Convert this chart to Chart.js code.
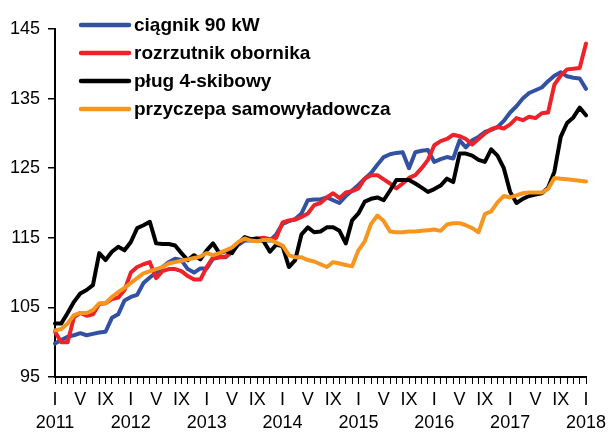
<!DOCTYPE html>
<html>
<head>
<meta charset="utf-8">
<script src="https://cdn.jsdelivr.net/npm/chart.js@4.4.1/dist/chart.umd.min.js"></script>
<style>
  body { margin: 0; background: #fff; }
  #wrap { width: 611px; height: 432px; position: relative; }
</style>
</head>
<body>
<div id="wrap"><canvas id="machines"></canvas></div>
<script>
// price indices of farm machinery, monthly I 2011 - I 2018
const seriesNames = ["ciągnik 90 kW", "rozrzutnik obornika", "pług 4-skibowy", "przyczepa samowyładowcza"];
const seriesColors = ["#3351a3", "#ee2229", "#000000", "#f7961e"];
const monthMarks = ["I", "", "", "", "V", "", "", "", "IX", "", "", ""];
const years = [2011, 2012, 2013, 2014, 2015, 2016, 2017, 2018];
const yTicks = [95, 105, 115, 125, 135, 145];

const tractor = [
  99.8, 100.3, 100.8, 101.0, 101.3, 101.0, 101.2, 101.4, 101.5, 103.5, 104.0, 106.0,
  106.5, 106.8, 108.5, 109.3, 110.0, 110.8, 111.5, 112.0, 111.8, 110.5, 110.0, 110.6,
  110.6, 112.0, 112.2, 112.2, 113.0, 114.0, 114.6, 114.6, 114.6, 114.6, 114.6, 115.5,
  117.0, 117.4, 117.7, 118.5, 120.4, 120.5, 120.5, 120.8, 120.4, 120.0, 121.0, 121.8,
  122.6, 123.5, 124.3, 125.5, 126.6, 127.0, 127.2, 127.3, 125.0, 127.3, 127.5, 127.6,
  125.9, 126.3, 126.6, 126.4, 129.0, 128.0, 129.0, 129.5, 130.2, 130.5, 130.9, 131.8,
  133.0, 133.9, 135.0, 135.8, 136.2, 136.6, 137.5, 138.3, 138.8, 138.2, 138.0, 137.9,
  136.4
];
const spreader = [
  101.5, 100.0, 100.0, 103.6, 104.2, 103.8, 104.0, 105.5, 105.6, 106.2, 106.4, 107.5,
  110.0, 110.8, 111.2, 111.5, 109.2, 110.2, 110.5, 110.5, 110.2, 109.5, 109.0, 109.0,
  110.8, 112.2, 112.2, 112.3, 113.0, 114.3, 114.8, 114.8, 114.9, 115.0, 114.8, 115.0,
  117.2, 117.5, 117.6, 118.0, 118.5, 119.7, 120.0, 120.8, 121.4, 120.7, 121.5, 121.7,
  122.1, 123.5, 124.0, 124.0, 123.4, 122.8, 122.1, 122.8, 123.6, 124.0, 125.0, 126.2,
  128.3, 128.9, 129.2, 129.8, 129.6, 129.2, 128.4, 129.2, 130.0, 130.6, 130.9, 130.7,
  131.3, 132.2, 131.9, 132.4, 132.2, 132.9, 133.0, 137.0, 138.3, 139.2, 139.3, 139.4,
  142.9
];
const plough = [
  102.7, 102.7, 104.2, 105.8, 107.0, 107.5, 108.2, 112.8, 111.8, 113.0, 113.7, 113.2,
  114.4, 116.4, 116.8, 117.3, 114.2, 114.1, 114.1, 113.9, 112.8, 111.8, 112.5, 111.9,
  113.2, 114.2, 112.8, 113.1, 112.8, 114.2, 115.1, 114.8, 114.9, 114.5, 113.0, 114.0,
  113.8, 110.8, 111.8, 115.5, 116.5, 115.8, 115.9, 116.5, 116.5, 116.0, 114.2, 117.5,
  118.5, 120.2, 120.6, 120.8, 120.4, 121.8, 123.3, 123.3, 123.3, 122.8, 122.2, 121.6,
  122.0, 122.5, 123.5, 123.0, 127.1, 127.1, 126.8, 126.2, 125.9, 127.7, 126.8, 125.0,
  121.6, 120.0, 120.6, 121.0, 121.2, 121.4, 122.2, 124.5, 129.5, 131.5, 132.3, 133.7,
  132.6
];
const trailer = [
  101.7, 101.9, 102.7, 103.9, 104.2, 104.2, 104.6, 105.6, 105.6, 106.5, 107.2, 107.8,
  108.5, 109.2, 109.9, 110.2, 110.5, 110.8, 111.3, 111.5, 111.7, 111.9, 112.1, 112.3,
  112.8, 112.5, 112.8, 113.2, 113.6, 114.4, 114.9, 114.6, 114.5, 114.7, 114.7, 114.3,
  113.9, 112.5, 112.2, 112.2, 111.8, 111.6, 111.2, 110.8, 111.5, 111.3, 111.1, 110.9,
  113.2, 114.5, 117.0, 118.2, 117.4, 115.9, 115.8, 115.8, 115.9, 115.9, 116.0, 116.1,
  116.2, 116.0, 116.9, 117.1, 117.1, 116.8, 116.4, 115.8, 118.4, 118.8, 120.1, 121.0,
  120.8, 121.1, 121.4, 121.5, 121.5, 121.5, 122.0, 123.6, 123.5, 123.4, 123.3, 123.2,
  123.1
];
const seriesValues = [tractor, spreader, plough, trailer];
// orange on top, blue at the bottom
const drawOrder = [3, 2, 1, 0];

// one label per month; January gets the year on a second line
const labels = [];
years.forEach((yr, yi) => {
  for (let m = 0; m < 12; m++) {
    if (yi === years.length - 1 && m > 0) break;
    if (m === 0) labels.push(["I", String(yr)]);
    else if (monthMarks[m]) labels.push([monthMarks[m]]);
    else labels.push("");
  }
});

const FONT = "'Liberation Sans', Arial, sans-serif";

// legend drawn inside the plot, top-left
const legendBox = {
  id: "legendBox",
  afterDraw(chart) {
    const ctx = chart.ctx;
    ctx.save();
    ctx.font = "bold 19px " + FONT;
    ctx.textBaseline = "middle";
    ctx.lineCap = "round";
    chart.data.datasets.forEach((ds, i) => {
      const y = 25 + i * 28;
      ctx.strokeStyle = ds.borderColor;
      ctx.lineWidth = 4.5;
      ctx.beginPath();
      ctx.moveTo(81, y);
      ctx.lineTo(129, y);
      ctx.stroke();
      ctx.fillStyle = "#000";
      ctx.fillText(ds.label, 134, y + 1);
    });
    ctx.restore();
  }
};

new Chart(document.getElementById("machines"), {
  type: "line",
  data: {
    labels: labels,
    datasets: seriesNames.map((name, i) => ({
      label: name,
      data: seriesValues[i],
      borderColor: seriesColors[i],
      backgroundColor: seriesColors[i],
      order: drawOrder[i],
    })),
  },
  options: {
    responsive: true,
    maintainAspectRatio: false,
    animation: false,
    layout: { padding: { top: 29, right: 25, left: 0, bottom: 0 } },
    elements: {
      line: { borderWidth: 4, tension: 0, borderJoinStyle: "round", borderCapStyle: "round" },
      point: { radius: 0, hoverRadius: 0 },
    },
    plugins: {
      legend: { display: false },
      tooltip: { enabled: false },
    },
    scales: {
      x: {
        offset: false,
        grid: { drawOnChartArea: false, drawTicks: true, tickLength: 7, color: "#000", lineWidth: 1 },
        border: { color: "#000", width: 2 },
        ticks: {
          autoSkip: false,
          maxRotation: 0,
          color: "#000",
          padding: 4,
          font: { family: FONT, size: 18, lineHeight: 1.3 },
        },
        afterFit(scale) { scale.height = 55; },
      },
      y: {
        min: 95,
        max: 145,
        afterBuildTicks(scale) { scale.ticks = yTicks.map((v) => ({ value: v })); },
        grid: { drawOnChartArea: false, drawTicks: true, tickLength: 7, color: "#000", lineWidth: 1.5 },
        border: { color: "#000", width: 2 },
        ticks: {
          color: "#000",
          padding: 8,
          font: { family: FONT, size: 18 },
        },
        afterFit(scale) { scale.width = 55; },
      },
    },
  },
  plugins: [legendBox],
});
</script>
</body>
</html>
